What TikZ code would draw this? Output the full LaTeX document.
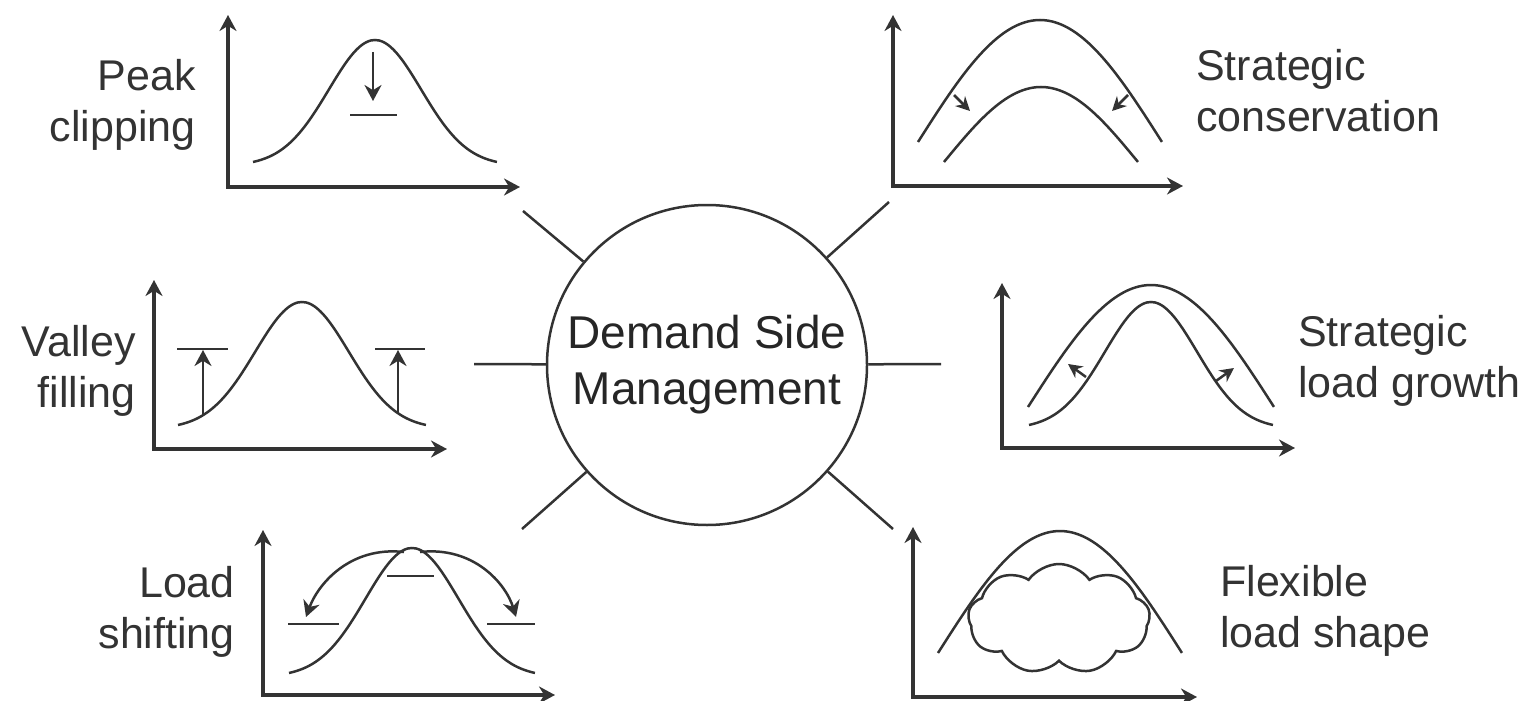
\documentclass[tikz,border=0pt]{standalone}
\usepackage{fontspec}
\setmainfont{Liberation Sans}
\usetikzlibrary{arrows.meta,shapes.symbols}

\definecolor{InkGray}{rgb}{0.2,0.2,0.2}

\begin{document}
\begin{tikzpicture}[x=0.5pt,y=-0.5pt,color=InkGray,line width=1.25pt,
    tip/.style={-{Stealth[length=8pt,width=8.5pt]}},
    axes/.style={{Stealth[length=8pt,width=8.5pt]}-{Stealth[length=8pt,width=8.5pt]},line width=1.6pt},
    smalltip/.style={-{Stealth[length=7pt,width=7pt]}},
    sidetext/.style={inner sep=0pt,font=\fontsize{21.5}{25.5}\selectfont}]
  \useasboundingbox (0,0) rectangle (1526,701);

  \node (dsm) [circle,draw,minimum size=160pt,inner sep=0pt,align=center,
    text=black!85,font=\fontsize{23}{28}\selectfont] at (707,365) {Demand Side\\Management};

  % labels, anchored at the baseline of their second line
  \node (peak) [sidetext,anchor=base east,align=right] at (197,141) {Peak\\clipping};
  \node (cons) [sidetext,anchor=base west,align=left] at (1195,132) {Strategic\\conservation};
  \node (valley) [sidetext,anchor=base east,align=right] at (137,407) {Valley\\filling};
  \node (growth) [sidetext,anchor=base west,align=left] at (1297,397) {Strategic\\load growth};
  \node (shift) [sidetext,anchor=base east,align=right] at (236,648) {Load\\shifting};
  \node (flex) [sidetext,anchor=base west,align=left] at (1219,647) {Flexible\\load shape};

  % spokes
  \coordinate (spPeak) at (523,211);
  \coordinate (spCons) at (889,202);
  \coordinate (spValley) at (474,364);
  \coordinate (spGrowth) at (941,364);
  \coordinate (spShift) at (522,529);
  \coordinate (spFlex) at (893,529);
  \foreach \s in {spPeak,spCons,spValley,spGrowth,spShift,spFlex}
    \draw (dsm) -- (\s);

  % peak clipping
  \draw[axes] (228,15) |- (520,187);
  \draw plot[domain=-1:1,samples=61,smooth] ({375+122*\x},{162-122*(exp(-3.5*\x*\x)-0.03)/0.97});
  \draw[tip] (373,52) -- (373,101);
  \draw (350,115) -- (397,115);

  % strategic conservation
  \draw[axes] (893,15) |- (1183,186);
  \draw plot[domain=-1:1,samples=41,smooth] ({1040+122*\x},{142-122*cos(90*\x)});
  \draw plot[domain=-1:1,samples=41,smooth] ({1041+97*\x},{162-75*cos(90*\x)});
  \draw[smalltip] (954,95) -- (970,111);
  \draw[smalltip] (1128,95) -- (1112,111);

  % valley filling
  \draw[axes] (154,280) |- (447,449);
  \draw plot[domain=-1:1,samples=61,smooth] ({302+124*\x},{425-123*(exp(-3.5*\x*\x)-0.03)/0.97});
  \draw (177,349) -- (228,349);
  \draw (375,349) -- (425,349);
  \draw[tip] (203,416) -- (203,350);
  \draw[tip] (398,414) -- (398,350);

  % strategic load growth
  \draw[axes] (1002,283) |- (1295,448);
  \draw plot[domain=-1:1,samples=41,smooth] ({1151+123*\x},{407-122*cos(90*\x)});
  \draw plot[domain=-1:1,samples=61,smooth] ({1151+122*\x},{425-123*(exp(-3.5*\x*\x)-0.03)/0.97});
  \draw[smalltip] (1086,377) -- (1068,364);
  \draw[smalltip] (1216,381) -- (1234,368);

  % load shifting
  \draw[axes] (263,530) |- (555,695);
  \draw plot[domain=-1:1,samples=61,smooth] ({412+123*\x},{673-125*(exp(-3.5*\x*\x)-0.03)/0.97});
  \draw (387,576) -- (434,576);
  \draw (288,624) -- (339,624);
  \draw (487,624) -- (535,624);
  \draw[tip] (404,552) .. controls (350,546) and (318,584) .. (306,617);
  \draw[tip] (420,552) .. controls (474,546) and (506,584) .. (516,617);

  % flexible load shape
  \draw[axes] (913,527) |- (1197,697);
  \draw plot[domain=-1:1,samples=41,smooth] ({1060+122*\x},{653-122*cos(90*\x)});
  \node (cloud) [cloud,draw,cloud puffs=9,cloud puff arc=110,inner sep=0pt,
    minimum width=91pt,minimum height=55pt] at (1059,619) {};
\end{tikzpicture}
\end{document}
